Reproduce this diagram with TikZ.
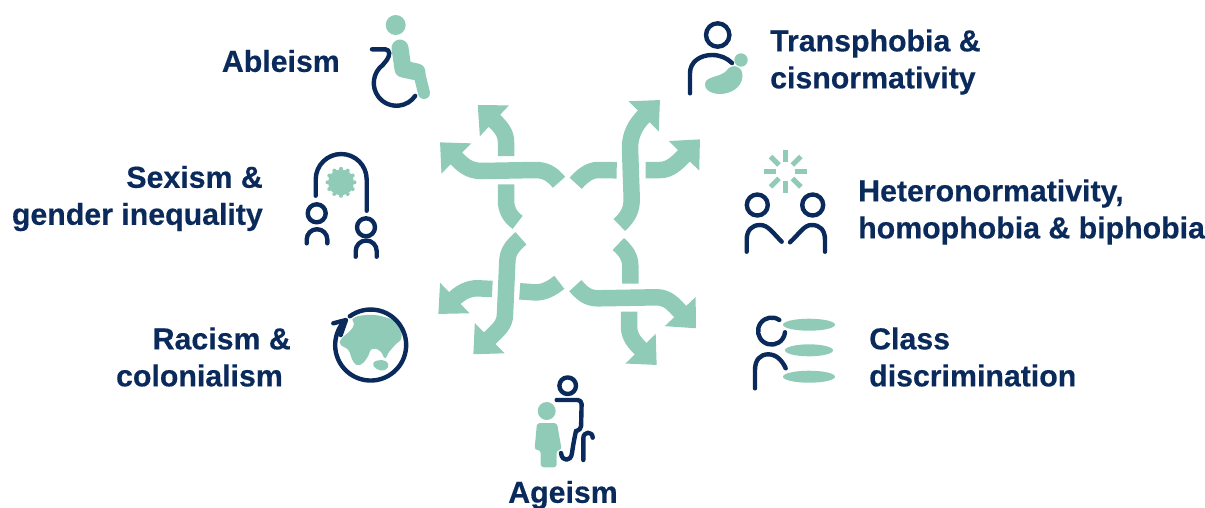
\documentclass[tikz,border=0pt]{standalone}
\usepackage{fontspec}
\setmainfont[BoldFeatures={FakeBold=0.4}]{Liberation Sans}
\usetikzlibrary{arrows.meta}
\definecolor{navyc}{HTML}{0A2A5C}
\definecolor{tealc}{HTML}{90CBB7}
\tikzset{
  band/.style={draw=tealc, line width=16.5pt, -{Triangle[length=23pt,width=41pt]}},
  bandplain/.style={draw=tealc, line width=16.5pt},
  iconline/.style={draw=navyc, line width=4.4pt, line cap=round, line join=round},
  iconfill/.style={fill=tealc},
  labeltext/.style={inner sep=0pt, text=navyc, font=\fontsize{30.3}{37}\selectfont\bfseries}
}
\begin{document}
\begin{tikzpicture}[x=1pt,y=-1pt]
      \useasboundingbox (0,0) rectangle (1205,507);
      % top left
      \draw[band] (559,182.3) .. controls (552,174) and (546,170) .. (535,170) -- (482,171) .. controls (468,171) and (462,164) .. (440,142.3);
      \draw[band] (506,156) -- (506,142) .. controls (506,133) and (501,127) .. (477.7,105);
      \draw[bandplain] (506,184.3) -- (506,200) .. controls (506,210) and (510,217) .. (517.7,222.3);
      % top right
      \draw[band] (619.3,225) .. controls (628,217) and (632,210) .. (631.7,198) -- (630,148) .. controls (630,135) and (635,125) .. (660,100);
      \draw[bandplain] (575.7,183.3) .. controls (583,175) and (590,170) .. (598.3,170) -- (616.7,170.3);
      \draw[band] (645.7,170) -- (660,170) .. controls (670,170) and (677,163) .. (700,139.3);
      % bottom left
      \draw[band] (521,238.3) .. controls (512,246) and (507.5,252) .. (507.3,262) -- (505,314) .. controls (505,325) and (498,330) .. (473.3,354.3);
      \draw[band] (492.3,289) -- (478,288.3) .. controls (468,288) and (460,293) .. (438.3,314);
      \draw[bandplain] (519.7,291.3) -- (534,292.3) .. controls (543,293) and (551,289) .. (559.3,282.3);
      % bottom right
      \draw[band] (575.3,285.7) .. controls (582,293) and (587,298.3) .. (598,298.3) -- (656,297.3) .. controls (668,297) and (674,305) .. (696,328.3);
      \draw[bandplain] (618.3,244) .. controls (626,251) and (630.3,257) .. (630.3,266) -- (630.3,283.7);
      \draw[band] (629,311.7) -- (629,326) .. controls (629,337) and (635,343) .. (656.7,365);
      % wheelchair
      \fill[iconfill] (395.7,25) circle (10);
      \draw[draw=tealc, line width=17pt, line cap=round, line join=round] (400,48) -- (403,69) -- (417,72);
      \draw[draw=tealc, line width=12pt, line cap=round] (419,73) -- (424,93);
      \draw[iconline, rounded corners=4pt] (372,49.3) -- (389.3,49.3) -- (389.3,57) -- (382.7,65);
      \draw[iconline] (382.7,65) arc[start angle=232.6, end angle=34.6, radius=22.7];
      % arch and two people
      \draw[iconline] (315.7,195.7) -- (315.7,179.5) arc[start angle=180, end angle=360, radius=25.5] -- (366.7,210.7);
      \fill[iconfill] (341,182.3) circle (13);
      \foreach \a in {0,30,...,330}
        \fill[iconfill] (341,182.3) ++(\a:13.5) circle (2);
      \draw[iconline] (316.7,213.3) circle (9);
      \draw[iconline] (306.7,243.3) -- (306.7,239.5) arc[start angle=180, end angle=360, radius=10.3] -- (327.3,243.3);
      \draw[iconline] (366,227.3) circle (9);
      \draw[iconline] (355.7,256.7) -- (355.7,251) arc[start angle=180, end angle=360, radius=10.5] -- (376.7,256.7);
      % globe
      \fill[iconfill] plot[smooth cycle, tension=.8] coordinates {(353.3,318.3) (366.7,315) (383.3,316.7) (396.7,323.3) (401.7,336.7) (395,345) (389,352) (385,358) (380,351) (372,349) (367,358) (360,365) (353.3,361.7) (348.3,350) (340.7,345) (341.7,338.3) (350,331) (354,324)};
      \fill[iconfill] plot[smooth cycle, tension=.8] coordinates {(373.3,363) (381.7,360) (388.3,364) (385,370) (376.7,369)};
      \draw[iconline] (349.8,316.3) arc[start angle=234, end angle=582, radius=35.5];
      \draw[iconline] (333.3,323.3) -- (346,320) -- (340.7,335);
      % person with blob
      \draw[iconline] (717.7,35) circle (11.7);
      \draw[iconline] (690,93.3) -- (690,73) .. controls (690,62) and (700,55) .. (712,55) .. controls (720,55) and (727,58) .. (732,63);
      \fill[iconfill] (741,60) circle (6.7);
      \fill[iconfill] (705.5,82) .. controls (708,76) and (722,77) .. (727,70) .. controls (732,63) and (743,66) .. (742.5,76) .. controls (742,88) and (730,94) .. (720,94) .. controls (712,94) and (703,90) .. (705.5,82) -- cycle;
      % couple and sun
      \foreach \a in {0,45,...,315}
        \draw[draw=tealc, line width=5pt] (785.7,171.7) ++(\a:9.5) -- ++(\a:12);
      \draw[iconline] (757.3,205) circle (10.5);
      \draw[iconline] (812.7,205) circle (10.5);
      \draw[iconline] (746.7,251.7) -- (746.7,240) .. controls (746.7,230) and (752,225) .. (760,225) .. controls (768,225) and (772,232) .. (781.7,241.7);
      \draw[iconline] (825,251.7) -- (825,240) .. controls (825,230) and (820,225) .. (811.7,225) .. controls (804,225) and (800,233) .. (790,242.3);
      % person and three ellipses
      \fill[iconfill] (809,324.7) ellipse (26 and 6);
      \fill[iconfill] (809,350.3) ellipse (24 and 6);
      \fill[iconfill] (809,376.7) ellipse (26 and 6);
      \draw[iconline] (779.3,320) arc[start angle=305, end angle=5, radius=13.5];
      \draw[iconline] (755,388.3) -- (755,370) .. controls (755,360) and (760,354.3) .. (768.3,354.3) .. controls (776,354.3) and (782,360) .. (785.7,368.3);
      % old person and child
      \draw[iconline] (567.7,385.7) circle (8.3);
      \draw[iconline, rounded corners=4pt] (556.7,400) -- (581.7,400) -- (581,430) -- (576,431);
      \draw[iconline] (576,431) .. controls (574,440) and (573,446) .. (572,453) .. controls (571,462) and (562,462) .. (561,453);
      \draw[iconline] (583.3,460) -- (583.3,438.3) .. controls (583.3,431) and (592.7,431) .. (592.7,437.7);
      \fill[iconfill] (546.7,411) circle (9);
      \fill[iconfill, rounded corners=3pt] (537,423) -- (557,423) -- (561.7,450) -- (556.7,450) -- (556.7,467.3) -- (540.7,467.3) -- (540.7,450) -- (534.5,450) -- cycle;
      % labels
      \node[labeltext, anchor=east] (ableism) at (340,61) {Ableism};
      \node[labeltext, anchor=east, align=right] (sexism) at (263,198.5) {Sexism \&\\gender inequality};
      \node[labeltext, anchor=east, align=right] (racism) at (291,357) {Racism \&\\colonialism\hspace*{8pt}};
      \node[labeltext, anchor=west, align=left] (trans) at (770,62) {Transphobia \&\\cisnormativity};
      \node[labeltext, anchor=west, align=left] (hetero) at (858,212) {Heteronormativity,\\homophobia \& biphobia};
      \node[labeltext, anchor=west, align=left] (class) at (869,357) {Class\\discrimination};
      \node[labeltext] (ageism) at (563,495) {Ageism};
    \end{tikzpicture}
\end{document}
